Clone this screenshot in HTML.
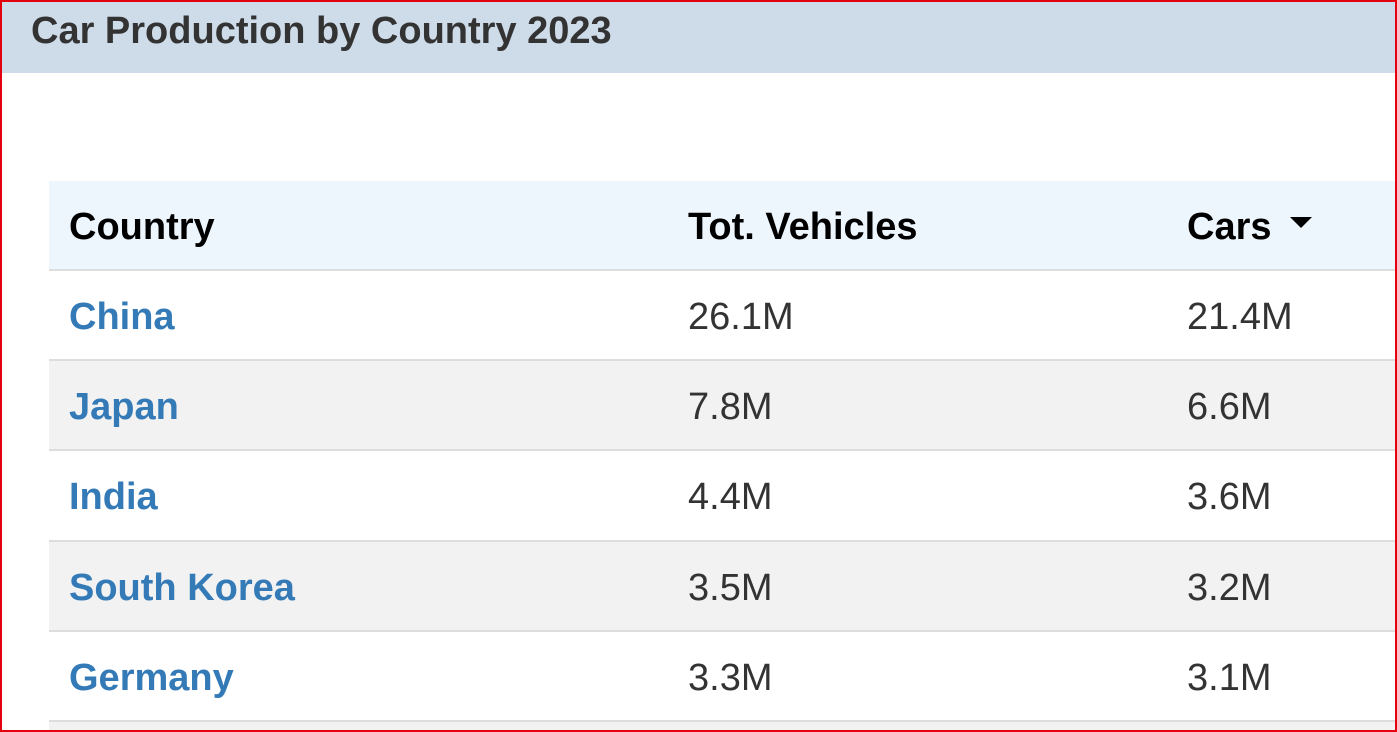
<!DOCTYPE html>
<html><head><style>
html,body{margin:0;width:1397px;height:732px;overflow:hidden}
body{background:#fff;font-family:"Liberation Sans",sans-serif;position:relative}
.frame{position:absolute;left:0;top:0;width:1397px;height:732px;box-sizing:border-box;border:2px solid #e3000f;z-index:5}
.hdr{position:absolute;left:0;top:0;width:1397px;height:73px;background:#cedbe8}
.hdr span{position:absolute;left:31px;top:10px;font-size:38px;font-weight:bold;color:#333}
.row{position:absolute;left:49px;width:1348px;height:88px;border-bottom:2px solid #ddd}
.row span{position:absolute;top:1px;line-height:90px;font-size:38px;color:#333}
.th span{font-weight:bold;color:#000;font-size:38px}
.c1{left:20px}.c2{left:639px}.c3{left:1138px}
.a{color:#337ab7!important;font-weight:bold}
.tri{display:inline-block;width:0;height:0;border-left:11px solid transparent;border-right:11px solid transparent;border-top:11px solid #000;vertical-align:middle;margin-left:18px;position:relative;top:-6px}
</style></head><body>
<div class="hdr"><span>Car Production by Country 2023</span></div>
<div class="row th" style="top:181px;background:#eef6fd"><span class="c1">Country</span><span class="c2">Tot. Vehicles</span><span class="c3">Cars<i class="tri"></i></span></div>
<div class="row" style="top:271px"><span class="c1 a">China</span><span class="c2">26.1M</span><span class="c3">21.4M</span></div>
<div class="row" style="top:361px;background:#f2f2f2"><span class="c1 a">Japan</span><span class="c2">7.8M</span><span class="c3">6.6M</span></div>
<div class="row" style="top:451px;height:89px"><span class="c1 a">India</span><span class="c2">4.4M</span><span class="c3">3.6M</span></div>
<div class="row" style="top:542px;background:#f2f2f2"><span class="c1 a">South Korea</span><span class="c2">3.5M</span><span class="c3">3.2M</span></div>
<div class="row" style="top:632px"><span class="c1 a">Germany</span><span class="c2">3.3M</span><span class="c3">3.1M</span></div>
<div class="row" style="top:722px;height:10px;border:0;background:#f2f2f2"></div>
<div class="frame"></div>
</body></html>
